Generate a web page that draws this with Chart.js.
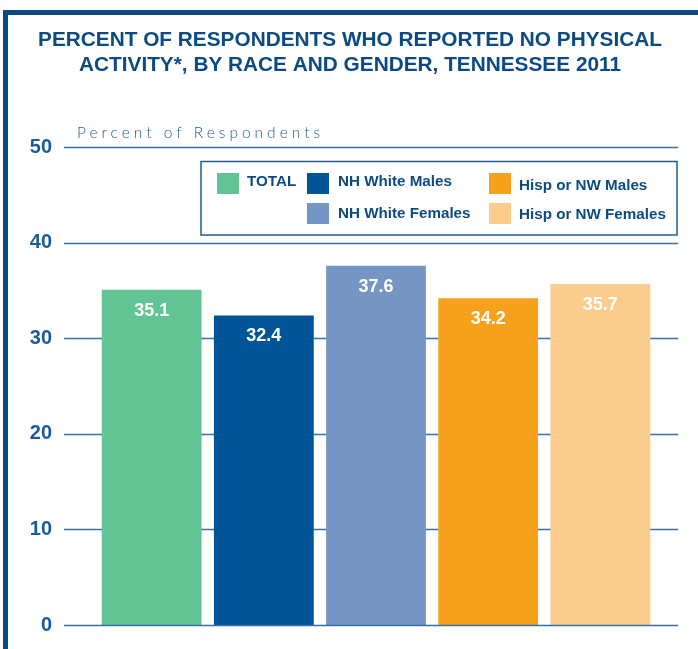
<!DOCTYPE html>
<html>
<head>
<meta charset="utf-8">
<script src="https://cdn.jsdelivr.net/npm/chart.js@4/dist/chart.umd.min.js"></script>
<style>
  html, body { margin: 0; padding: 0; background: #fff; }
  canvas { display: block; }
</style>
</head>
<body>
<canvas id="grafico" width="698" height="649"></canvas>
<script>
// dados do grafico
const categorias = ["TOTAL", "NH White Males", "NH White Females", "Hisp or NW Males", "Hisp or NW Females"];
const valores = [35.1, 32.4, 37.6, 34.2, 35.7];
const cores = ["#62c394", "#005596", "#7596c2", "#f6a21d", "#facc8d"];
const ticksY = [0, 10, 20, 30, 40, 50];

const AZUL = "#0b4a82";
const AZUL_LINHA = "#3572aa";

// moldura + texto do eixo
const moldura = {
  id: "moldura",
  beforeDraw(chart) {
    const ctx = chart.ctx;
    ctx.save();
    ctx.fillStyle = "#fff";
    ctx.fillRect(0, 0, chart.width, chart.height);
    ctx.fillStyle = AZUL;
    ctx.fillRect(3, 10, 5, chart.height);
    ctx.fillRect(3, 10, chart.width, 5);

    ctx.fillStyle = "#1c5c96";
    ctx.font = "300 15.5px Lato, 'Liberation Sans', sans-serif";
    ctx.letterSpacing = "4px";
    ctx.textBaseline = "alphabetic";
    ctx.fillText("Percent of Respondents", 77, 138);
    ctx.restore();
  }
};

// linhas de grade mais largas que a area do grafico
const grade = {
  id: "grade",
  beforeDatasetsDraw(chart) {
    const ctx = chart.ctx;
    const y = chart.scales.y;
    ctx.save();
    ctx.strokeStyle = AZUL_LINHA;
    ctx.lineWidth = 1.5;
    ticksY.forEach((t) => {
      if (t === 0) return;
      const py = Math.round(y.getPixelForValue(t)) + 0.5;
      ctx.beginPath();
      ctx.moveTo(64, py);
      ctx.lineTo(678, py);
      ctx.stroke();
    });
    ctx.restore();
  },
  afterDatasetsDraw(chart) {
    const ctx = chart.ctx;
    const y = chart.scales.y;
    ctx.save();
    ctx.strokeStyle = AZUL_LINHA;
    ctx.lineWidth = 1.5;
    const py = Math.round(y.getPixelForValue(0)) + 0.5;
    ctx.beginPath();
    ctx.moveTo(64, py);
    ctx.lineTo(678, py);
    ctx.stroke();

    // valores dentro das barras
    ctx.fillStyle = "#fff";
    ctx.font = "bold 18px 'Liberation Sans', Arial, sans-serif";
    ctx.textAlign = "center";
    ctx.textBaseline = "middle";
    chart.getDatasetMeta(0).data.forEach((bar, i) => {
      ctx.fillText(valores[i].toFixed(1), bar.x, bar.y + 21);
    });
    ctx.restore();
  }
};

// legenda em caixa, duas linhas
const legenda = {
  id: "legenda",
  afterDraw(chart) {
    const ctx = chart.ctx;
    const pos = [
      { sx: 217, sy: 173, tx: 247, ty: 182 },
      { sx: 307, sy: 173, tx: 338, ty: 182 },
      { sx: 307, sy: 203, tx: 338, ty: 214 },
      { sx: 489, sy: 173, tx: 519, ty: 186 },
      { sx: 489, sy: 203, tx: 519, ty: 215 }
    ];
    ctx.save();
    ctx.strokeStyle = "#1c5c96";
    ctx.lineWidth = 1.5;
    ctx.strokeRect(201, 161.5, 476, 73.5);
    ctx.font = "bold 15.2px 'Liberation Sans', Arial, sans-serif";
    ctx.textBaseline = "middle";
    categorias.forEach((nome, i) => {
      const p = pos[i];
      ctx.fillStyle = cores[i];
      ctx.fillRect(p.sx, p.sy, 22, 21);
      ctx.fillStyle = AZUL;
      ctx.fillText(nome, p.tx, p.ty);
    });
    ctx.restore();
  }
};

const ctx = document.getElementById("grafico").getContext("2d");
new Chart(ctx, {
  type: "bar",
  data: {
    labels: categorias,
    datasets: [
      {
        label: "Percent of Respondents",
        data: valores,
        backgroundColor: cores,
        borderWidth: 0,
        barPercentage: 0.89,
        categoryPercentage: 1
      }
    ]
  },
  options: {
    responsive: false,
    animation: false,
    layout: { padding: { left: 26, right: 24, top: 0, bottom: 24 } },
    plugins: {
      legend: { display: false },
      tooltip: { enabled: false },
      title: {
        display: true,
        text: [
          "PERCENT OF RESPONDENTS WHO REPORTED NO PHYSICAL",
          "ACTIVITY*, BY RACE AND GENDER, TENNESSEE 2011"
        ],
        color: AZUL,
        font: { family: "'Liberation Sans', Arial, sans-serif", size: 20.8, weight: "bold", lineHeight: 1.18 },
        padding: { top: 28, bottom: 70.2 }
      }
    },
    scales: {
      x: {
        display: false,
        grid: { display: false }
      },
      y: {
        min: 0,
        max: 50,
        border: { display: false },
        grid: { display: false, drawTicks: false },
        ticks: {
          stepSize: 10,
          padding: 43.6,
          color: "#1c5c96",
          font: { family: "'Liberation Sans', Arial, sans-serif", size: 20, weight: "bold" }
        },
        afterFit(scale) {
          scale.width = 69.6;
          scale.paddingTop = 0;
          scale.paddingBottom = 0;
        }
      },
      // eixo vazio a direita so para reservar espaco
      y2: {
        position: "right",
        min: 0,
        max: 50,
        border: { display: false },
        grid: { display: false, drawTicks: false },
        ticks: { display: false },
        afterFit(scale) {
          scale.width = 17.6;
          scale.paddingTop = 0;
          scale.paddingBottom = 0;
        }
      }
    }
  },
  plugins: [moldura, grade, legenda]
});
</script>
</body>
</html>
